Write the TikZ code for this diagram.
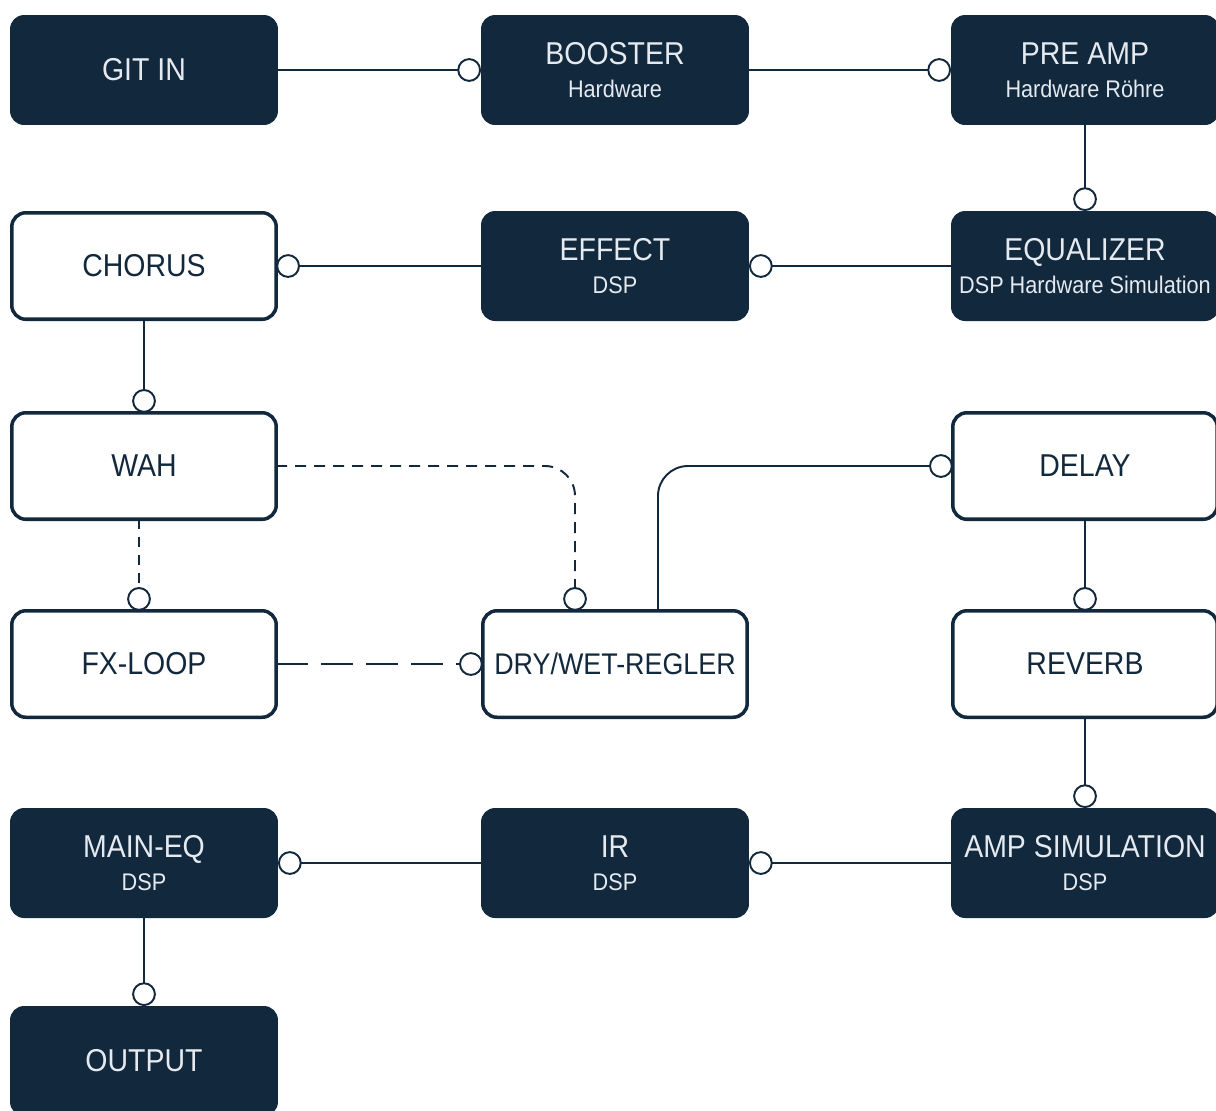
\documentclass[tikz,border=0pt]{standalone}
\usepackage{fontspec}
\setmainfont{Liberation Sans}[FakeStretch=0.9]
\usepackage{tikz}
\usetikzlibrary{positioning}
\usetikzlibrary{arrows.meta}

\definecolor{navy}{HTML}{12283C}
\definecolor{paleink}{HTML}{E4EAF0}

\newcommand{\subtxt}[1]{\\[0pt]{\fontsize{13.7}{15}\selectfont #1}}

\tikzset{
  block/.style={rectangle, rounded corners=8pt, minimum width=5.36cm, minimum height=2.2cm,
    inner sep=0pt, outer sep=0pt, align=center, font=\fontsize{18}{19}\selectfont},
  darkblock/.style={block, fill=navy, text=paleink},
  lightblock/.style={block, fill=white, draw=navy, line width=2pt, text=navy,
    minimum width=5.29cm, minimum height=2.13cm},
  link/.style={navy, line width=1.1pt, -{Circle[fill=white,length=13.5pt,width=13.5pt]}},
}

\begin{document}
\begin{tikzpicture}[x=0.02cm, y=-0.02cm]
  \useasboundingbox (0,0) rectangle (1216,1110);

  % signal chain
  \node[darkblock] (git) at (144,70) {GIT IN};
  \node[darkblock] (boost) at (615,70) {BOOSTER\subtxt{Hardware}};
  \node[darkblock] (pre) at (1085,70) {PRE AMP\subtxt{Hardware Röhre}};
  \node[lightblock] (chorus) at (144,266) {CHORUS};
  \node[darkblock] (effect) at (615,266) {EFFECT\subtxt{DSP}};
  \node[darkblock] (eq) at (1085,266) {EQUALIZER\subtxt{DSP Hardware Simulation}};
  \node[lightblock] (wah) at (144,466) {WAH};
  \node[lightblock] (delay) at (1085,466) {DELAY};
  \node[lightblock] (fx) at (144,664) {FX-LOOP};
  \node[lightblock, font=\fontsize{17}{19}\selectfont] (dry) at (615,664) {DRY/WET-REGLER};
  \node[lightblock] (reverb) at (1085,664) {REVERB};
  \node[darkblock] (maineq) at (144,863) {MAIN-EQ\subtxt{DSP}};
  \node[darkblock] (ir) at (615,863) {IR\subtxt{DSP}};
  \node[darkblock] (amp) at (1085,863) {AMP SIMULATION\subtxt{DSP}};
  \node[darkblock] (output) at (144,1061) {OUTPUT};

  \draw[link] (git) -- (boost);
  \draw[link] (boost) -- (pre);
  \draw[link] (pre) -- (eq);
  \draw[link] (eq) -- (effect);
  \draw[link] (effect) -- (chorus);
  \draw[link] (chorus) -- (wah);
  \draw[link, dash pattern=on 0.2cm off 0.16cm] ([xshift=-0.1cm]wah.south) -- ([xshift=-0.1cm]fx.north);
  \draw[link, dash pattern=on 0.22cm off 0.16cm, rounded corners=0.6cm] (wah.east) -| ([xshift=-0.8cm]dry.north);
  \draw[link, dash pattern=on 0.64cm off 0.26cm] (fx) -- (dry);
  \draw[link, rounded corners=0.6cm] ([xshift=0.86cm]dry.north) |- (delay);
  \draw[link] (delay) -- (reverb);
  \draw[link] (reverb) -- (amp);
  \draw[link] (amp) -- (ir);
  \draw[link] (ir) -- (maineq);
  \draw[link] (maineq) -- (output);
\end{tikzpicture}
\end{document}
